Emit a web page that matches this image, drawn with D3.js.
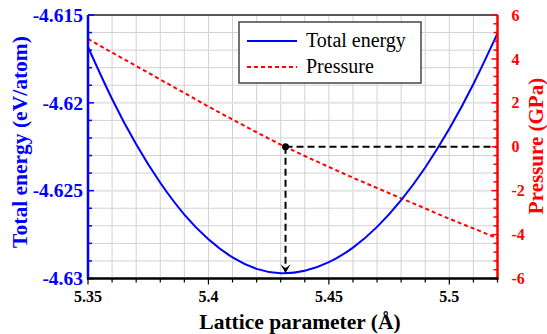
<!DOCTYPE html>
<html>
<head>
<meta charset="utf-8">
<script src="https://cdn.jsdelivr.net/npm/d3@7"></script>
<style>
  body { margin: 0; background: #fff; }
  svg text { font-family: "Liberation Serif", "Times New Roman", serif; }
</style>
</head>
<body>
<div id="chart"></div>
<script>
// lattice parameter (Å)
const lattice = [5.35, 5.36, 5.37, 5.38, 5.39, 5.40, 5.41, 5.42, 5.43, 5.44,
                 5.45, 5.46, 5.47, 5.48, 5.49, 5.50, 5.51, 5.52];
// total energy (eV/atom)
const energy = [-4.61682, -4.61978, -4.62236, -4.62455, -4.62636, -4.62777,
                -4.62880, -4.62945, -4.62970, -4.62956, -4.62907, -4.62824,
                -4.62706, -4.62554, -4.62368, -4.62148, -4.61893, -4.61605];
// pressure (GPa)
const pressure = [4.91, 4.29, 3.68, 3.06, 2.45, 1.83, 1.24, 0.66, 0.10, -0.42,
                  -0.92, -1.41, -1.88, -2.35, -2.81, -3.28, -3.72, -4.17];
// equilibrium point
const a0 = 5.432, p0 = 0, eMin = -4.6297;

const xTicks = [5.35, 5.4, 5.45, 5.5];
const xTickLabels = ["5.35", "5.4", "5.45", "5.5"];
const eTicks = [-4.63, -4.625, -4.62, -4.615];
const eTickLabels = ["-4.63", "-4.625", "-4.62", "-4.615"];
const pTicks = [-6, -4, -2, 0, 2, 4, 6];
const pTickLabels = ["-6", "-4", "-2", "0", "2", "4", "6"];
const legendLabels = ["Total energy", "Pressure"];

const width = 547, height = 334;
const plotL = 88, plotR = 497.5, plotT = 15, plotB = 278.5;

const svg = d3.select("#chart").append("svg")
    .attr("width", width)
    .attr("height", height);

const x = d3.scaleLinear().domain([5.35, 5.52]).range([plotL, plotR]);
const yE = d3.scaleLinear().domain([-4.63, -4.615]).range([plotB, plotT]);
const yP = d3.scaleLinear().domain([-6, 6]).range([plotB, plotT]);

const xMinor = d3.range(0, 18).map(i => 5.35 + i * 0.01);
const eMinor = d3.range(0, 16).map(i => -4.63 + i * 0.001);
const pMinor = d3.range(0, 31).map(i => -6 + i * 0.4);
const isMajor = (list, d) => list.some(t => Math.abs(t - d) < 1e-6);

// grid
const grid = svg.append("g");
grid.selectAll("line.v")
    .data(xMinor.slice(1, -1))
    .enter().append("line")
    .attr("x1", d => x(d)).attr("x2", d => x(d))
    .attr("y1", plotT).attr("y2", plotB)
    .attr("stroke", "#d2d2d2").attr("stroke-width", 1);
grid.selectAll("line.h")
    .data(eMinor.slice(1, -1))
    .enter().append("line")
    .attr("x1", plotL).attr("x2", plotR)
    .attr("y1", d => yE(d)).attr("y2", d => yE(d))
    .attr("stroke", d => isMajor(eTicks, d) ? "#e4e4e4" : "#d2d2d2")
    .attr("stroke-width", d => isMajor(eTicks, d) ? 2 : 1);

// top frame line
svg.append("line")
    .attr("x1", plotL).attr("x2", plotR).attr("y1", plotT).attr("y2", plotT)
    .attr("stroke", "#555").attr("stroke-width", 2);

const pts = lattice.map((a, i) => ({a: a, e: energy[i], p: pressure[i]}));

// pressure curve
svg.append("path")
    .datum(pts)
    .attr("fill", "none")
    .attr("stroke", "#ff0000")
    .attr("stroke-width", 2)
    .attr("stroke-dasharray", "4,3")
    .attr("d", d3.line().x(d => x(d.a)).y(d => yP(d.p)).curve(d3.curveNatural));

// energy curve
svg.append("path")
    .datum(pts)
    .attr("fill", "none")
    .attr("stroke", "#0000ff")
    .attr("stroke-width", 2)
    .attr("d", d3.line().x(d => x(d.a)).y(d => yE(d.e)).curve(d3.curveNatural));

// guide lines from the zero-pressure point
svg.append("line")
    .attr("x1", x(a0)).attr("x2", plotR)
    .attr("y1", yP(p0)).attr("y2", yP(p0))
    .attr("stroke", "#000").attr("stroke-width", 2)
    .attr("stroke-dasharray", "7,4");
svg.append("line")
    .attr("x1", x(a0)).attr("x2", x(a0))
    .attr("y1", yP(p0)).attr("y2", yE(eMin) - 4)
    .attr("stroke", "#000").attr("stroke-width", 2)
    .attr("stroke-dasharray", "7,4");
svg.append("path")
    .attr("transform", `translate(${x(a0)},${yE(eMin)})`)
    .attr("d", "M0,0 L-5,-9 L0,-5 L5,-9 Z")
    .attr("fill", "#000");
svg.append("circle")
    .attr("cx", x(a0)).attr("cy", yP(p0)).attr("r", 3.5)
    .attr("fill", "#000");

// left axis (energy)
const gl = svg.append("g");
gl.selectAll("line").data(eMinor).enter().append("line")
    .attr("x1", plotL).attr("x2", d => plotL + (isMajor(eTicks, d) ? 6 : 4))
    .attr("y1", d => yE(d)).attr("y2", d => yE(d))
    .attr("stroke", "#0000ff").attr("stroke-width", 1.5);
gl.append("line")
    .attr("x1", plotL).attr("x2", plotL).attr("y1", plotT).attr("y2", plotB + 1)
    .attr("stroke", "#0000ff").attr("stroke-width", 2.5);
gl.selectAll("text").data(eTicks).enter().append("text")
    .attr("x", plotL - 5).attr("y", d => yE(d))
    .attr("dy", "0.35em")
    .attr("text-anchor", "end")
    .attr("font-size", 19.5).attr("font-weight", "bold")
    .attr("fill", "#0000ff")
    .text((d, i) => eTickLabels[i]);

// right axis (pressure)
const gr = svg.append("g");
gr.selectAll("line").data(pMinor).enter().append("line")
    .attr("x1", plotR).attr("x2", d => plotR - (isMajor(pTicks, d) ? 6 : 4))
    .attr("y1", d => yP(d)).attr("y2", d => yP(d))
    .attr("stroke", "#ff0000").attr("stroke-width", 1.5);
gr.append("line")
    .attr("x1", plotR).attr("x2", plotR).attr("y1", plotT).attr("y2", plotB + 1)
    .attr("stroke", "#ff0000").attr("stroke-width", 2.5);
gr.selectAll("text").data(pTicks).enter().append("text")
    .attr("x", plotR + 14).attr("y", d => yP(d))
    .attr("dy", "0.35em")
    .attr("text-anchor", "start")
    .attr("font-size", 16).attr("font-weight", "bold")
    .attr("fill", "#ff0000")
    .text((d, i) => pTickLabels[i]);

// bottom axis
const gb = svg.append("g");
gb.selectAll("line").data(xMinor).enter().append("line")
    .attr("x1", d => x(d)).attr("x2", d => x(d))
    .attr("y1", plotB).attr("y2", d => plotB + (isMajor(xTicks, d) ? 6 : 4))
    .attr("stroke", "#000").attr("stroke-width", 1.2);
gb.append("line")
    .attr("x1", plotL - 1).attr("x2", plotR + 1).attr("y1", plotB).attr("y2", plotB)
    .attr("stroke", "#000").attr("stroke-width", 2.5);
gb.selectAll("text").data(xTicks).enter().append("text")
    .attr("x", d => x(d)).attr("y", 302)
    .attr("text-anchor", "middle")
    .attr("font-size", 16).attr("font-weight", "bold")
    .attr("fill", "#000")
    .text((d, i) => xTickLabels[i]);

// axis titles
svg.append("text")
    .attr("transform", "translate(300,329)")
    .attr("text-anchor", "middle")
    .attr("font-size", 21.5).attr("font-weight", "bold")
    .text("Lattice parameter (Å)");
svg.append("text")
    .attr("transform", "translate(27,142) rotate(-90)")
    .attr("text-anchor", "middle")
    .attr("font-size", 21.5).attr("font-weight", "bold")
    .attr("fill", "#0000ff")
    .text("Total energy (eV/atom)");
svg.append("text")
    .attr("transform", "translate(543,146) rotate(-90)")
    .attr("text-anchor", "middle")
    .attr("font-size", 21).attr("font-weight", "bold")
    .attr("fill", "#ff0000")
    .text("Pressure (GPa)");

// legend
const lg = svg.append("g");
lg.append("rect")
    .attr("x", 239).attr("y", 22).attr("width", 182).attr("height", 61)
    .attr("fill", "#fff").attr("stroke", "#444").attr("stroke-width", 1.5);
const legendStyles = [
    {color: "#0000ff", dash: null},
    {color: "#ff0000", dash: "4,3"}
];
legendLabels.forEach((lab, i) => {
    const yy = 41 + i * 26;
    lg.append("line")
        .attr("x1", 247).attr("x2", 297).attr("y1", yy).attr("y2", yy)
        .attr("stroke", legendStyles[i].color).attr("stroke-width", 2)
        .attr("stroke-dasharray", legendStyles[i].dash);
    lg.append("text")
        .attr("x", 306).attr("y", yy + 5.5)
        .attr("font-size", 20)
        .attr("fill", "#000")
        .text(lab);
});
</script>
</body>
</html>
